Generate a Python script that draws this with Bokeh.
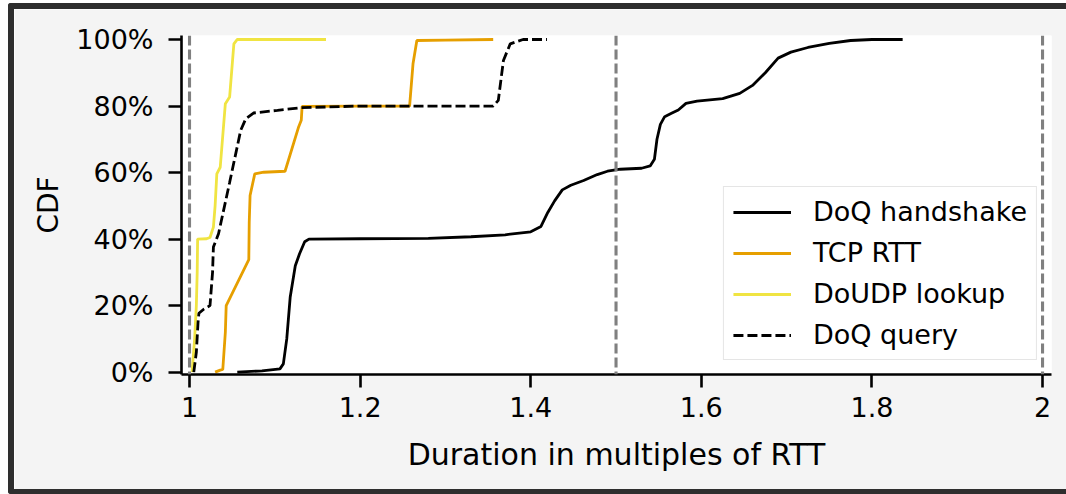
from bokeh.plotting import figure
from bokeh.models import Span, Legend, LegendItem, FixedTicker, CustomJSTickFormatter, Range1d
from bokeh.embed import file_html
from bokeh.resources import INLINE

# ---------------- data ----------------
series_names = ["DoQ handshake", "TCP RTT", "DoUDP lookup", "DoQ query"]

handshake_x = [1.056, 1.085, 1.106, 1.110, 1.114, 1.118, 1.124, 1.129, 1.135, 1.140, 1.200, 1.280,
               1.330, 1.370, 1.400, 1.412, 1.420, 1.428, 1.437, 1.447, 1.462, 1.478, 1.490, 1.505,
               1.530, 1.540, 1.545, 1.548, 1.552, 1.557, 1.565, 1.573, 1.582, 1.595, 1.625, 1.645,
               1.660, 1.675, 1.690, 1.705, 1.725, 1.750, 1.775, 1.800, 1.836]
handshake_y = [0.000, 0.004, 0.010, 0.025, 0.100, 0.225, 0.320, 0.356, 0.392, 0.400, 0.401, 0.402,
               0.407, 0.413, 0.422, 0.438, 0.480, 0.515, 0.548, 0.562, 0.576, 0.594, 0.604, 0.610,
               0.613, 0.620, 0.640, 0.700, 0.745, 0.768, 0.778, 0.788, 0.808, 0.815, 0.822, 0.838,
               0.862, 0.900, 0.944, 0.962, 0.976, 0.988, 0.997, 1.000, 1.000]

tcp_x = [1.030, 1.036, 1.039, 1.042, 1.043, 1.0695, 1.070, 1.071, 1.0765, 1.087, 1.112, 1.128,
         1.131, 1.132, 1.200, 1.258, 1.262, 1.2665, 1.300, 1.356]
tcp_y = [0.000, 0.006, 0.008, 0.120, 0.200, 0.338, 0.450, 0.531, 0.596, 0.601, 0.604, 0.738,
         0.757, 0.799, 0.800, 0.800, 0.927, 0.997, 0.998, 1.000]

udp_x = [1.003, 1.006, 1.008, 1.009, 1.0095, 1.020, 1.024, 1.028, 1.030, 1.032, 1.036, 1.042,
         1.047, 1.052, 1.056, 1.160]
udp_y = [0.000, 0.100, 0.200, 0.300, 0.400, 0.401, 0.405, 0.436, 0.500, 0.596, 0.616, 0.807,
         0.827, 0.987, 1.000, 1.000]

query_x = [1.005, 1.008, 1.010, 1.011, 1.017, 1.024, 1.027, 1.028, 1.034, 1.047, 1.060, 1.066,
           1.075, 1.103, 1.130, 1.200, 1.356, 1.362, 1.368, 1.376, 1.391, 1.419]
query_y = [0.000, 0.060, 0.150, 0.177, 0.190, 0.200, 0.300, 0.376, 0.416, 0.570, 0.727, 0.762,
           0.779, 0.787, 0.795, 0.800, 0.800, 0.817, 0.937, 0.987, 1.000, 1.000]

ref_lines_x = [1.0, 1.5, 2.0]

x_ticks = [1.0, 1.2, 1.4, 1.6, 1.8, 2.0]
x_tick_labels = ["1", "1.2", "1.4", "1.6", "1.8", "2"]
y_ticks = [0.0, 0.2, 0.4, 0.6, 0.8, 1.0]
y_tick_labels = ["0%", "20%", "40%", "60%", "80%", "100%"]

x_label = "Duration in multiples of RTT"
y_label = "CDF"

# ---------------- figure ----------------
FONT = "DejaVu Sans"
DARK = "#2e2e2e"

p = figure(width=1058, height=491, output_backend="svg", toolbar_location=None,
           x_range=Range1d(0.9906, 2.0105), y_range=Range1d(-0.007, 1.012),
           min_border_left=167, min_border_right=21, min_border_top=26, min_border_bottom=126)
p.styles = {"border-top": f"6px solid {DARK}", "border-left": f"6px solid {DARK}",
            "border-bottom": f"5px solid {DARK}", "margin-top": "3px", "margin-left": "8px",
            "border-top-left-radius": "3px", "border-bottom-left-radius": "3px"}

p.background_fill_color = "white"
p.border_fill_color = "#f4f4f4"
p.outline_line_color = None
p.grid.visible = False

def fmt(vals, labels):
    return CustomJSTickFormatter(args=dict(tick_vals=vals, tick_labels=labels), code="""
        for (let i = 0; i < tick_vals.length; i++) {
            if (Math.abs(tick_vals[i] - tick) < 1e-6) return tick_labels[i];
        }
        return '';
    """)

for ax, vals, labels, lab in ((p.xaxis[0], x_ticks, x_tick_labels, x_label),
                               (p.yaxis[0], y_ticks, y_tick_labels, y_label)):
    ax.ticker = FixedTicker(ticks=vals)
    ax.formatter = fmt(vals, labels)
    ax.minor_tick_line_color = None
    ax.major_tick_in = 0
    ax.major_tick_out = 13
    ax.major_tick_line_width = 2.6
    ax.major_tick_line_color = "black"
    ax.axis_line_width = 2.6
    ax.axis_line_color = "black"
    ax.major_label_text_font = FONT
    ax.major_label_text_font_size = "27px"
    ax.major_label_text_color = "black"
    ax.axis_label = lab
    ax.axis_label_text_font = FONT
    ax.axis_label_text_font_style = "normal"
    ax.axis_label_text_color = "black"

p.xaxis.axis_label_text_font_size = "30px"
p.yaxis.axis_label_text_font_size = "28px"
p.xaxis.major_label_standoff = 9
p.xaxis.axis_label_standoff = 17
p.yaxis.major_label_standoff = 15
p.yaxis.axis_label_standoff = 8

LW = 2.8
r_hs = p.line(handshake_x, handshake_y, line_color="black", line_width=LW)
r_tcp = p.line(tcp_x, tcp_y, line_color="#E69F00", line_width=LW)
r_udp = p.line(udp_x, udp_y, line_color="#F0E442", line_width=LW)
r_q = p.line(query_x, query_y, line_color="black", line_width=LW, line_dash="10 4")

for xv in ref_lines_x:
    p.add_layout(Span(location=xv, dimension="height", line_color="#808080",
                      line_width=3.1, line_dash="10 4"))

legend = Legend(items=[LegendItem(label=n, renderers=[r]) for n, r in
                       zip(series_names, [r_hs, r_tcp, r_udp, r_q])],
                location="bottom_right", margin=14, padding=9, spacing=10,
                glyph_width=58, glyph_height=30, label_height=30, label_standoff=22,
                label_text_font=FONT, label_text_font_size="27px", label_text_color="black",
                border_line_color="#cccccc", border_line_width=1.5,
                background_fill_color="white", background_fill_alpha=0.8)
p.add_layout(legend)

html = file_html(p, INLINE)
html = html.replace("<body>", '<body style="background-color:#f4f4f4;">', 1)
open("out.html", "w").write(html)
